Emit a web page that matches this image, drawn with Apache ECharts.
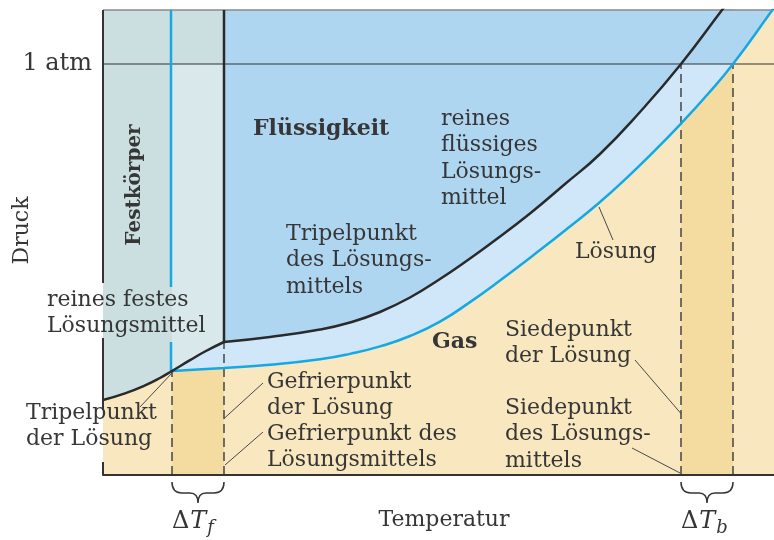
<!DOCTYPE html>
<html>
<head>
<meta charset="utf-8">
<script src="https://cdn.jsdelivr.net/npm/echarts@6/dist/echarts.min.js"></script>
<style>
html, body { margin: 0; padding: 0; background: #fff; }
#chart { width: 774px; height: 540px; }
</style>
</head>
<body>
<div id="chart"></div>
<script>
// Phasendiagramm: reines Lösungsmittel (schwarz) und Lösung (blau)
// x = Temperatur, y = Druck (willkürliche Einheiten), 1 atm = 411
var atm = 411;

// Sublimationskurve (fest <-> gas)
var sublimT = [0, 22, 42, 57, 69, 87, 102, 121];
var sublimP = [75, 81.6, 89.6, 97, 104, 114.8, 123.5, 133];
// Dampfdruckkurve reines Lösungsmittel
var vapT = [121, 167, 217, 247, 277, 307, 337, 367, 387, 427, 462, 497, 537, 578, 619, 632];
var vapP = [133, 138, 145.5, 152.5, 163, 177.5, 196, 216.5, 231, 261.5, 291, 321, 363, 411, 465, 482];
// Dampfdruckkurve Lösung
var solT = [69, 121, 167, 217, 247, 277, 307, 337, 367, 397, 437, 466, 495, 524, 551, 578, 604, 630, 669, 682];
var solP = [104, 107, 110.2, 115.7, 121.1, 128.6, 139, 153.4, 172.9, 194.5, 224.9, 247.7, 271.3, 297.4, 323.6, 351.4, 380, 411, 464.5, 482.5];

var meltT = 121;          // Schmelzkurve Lösungsmittel
var meltSolT = 68;        // Schmelzkurve Lösung
var tripleP = [104, 133]; // Tripelpunkte Lösung / Lösungsmittel
var freezeT = [69, 121];  // Gefrierpunkt Lösung / Lösungsmittel
var boilT = [578, 630];   // Siedepunkt Lösungsmittel / Lösung

var SERIF = 'DejaVu Serif';
var INK = '#363636';
var BEIGE = '#f8e7bf', STRIP = '#f4dca0', LIQUID = '#afd6f1', BAND = '#cfe7f8';
var TEAL = '#cbdfe0', LTEAL = '#d9e8eb', BLACK = '#2a2a2a', BLUE = '#14a8e6';
var SMOOTH = 0.5;

function zip(a, b) {
	return a.map(function(v, i) { return [v, b[i]]; });
}

var sublim = zip(sublimT, sublimP);
var vap = zip(vapT, vapP);
var sol = zip(solT, solP);
var iF = solT.indexOf(freezeT[1]), iB0 = solT.indexOf(boilT[0]), iB1 = solT.indexOf(boilT[1]);

function fill(data, origin, color) {
	return {
		type: 'line', data: data, smooth: SMOOTH, symbol: 'none', silent: true,
		lineStyle: { opacity: 0 },
		areaStyle: { origin: origin, color: color, opacity: 1 }
	};
}
function curve(data, color, width, smooth, dash) {
	return {
		type: 'line', data: data, smooth: smooth ? SMOOTH : false, symbol: 'none', silent: true,
		connectNulls: false,
		lineStyle: { color: color, width: width, type: dash || 'solid', cap: 'butt' }
	};
}

// text annotations (data coords of top-left / centre)
var notes = [
	{ x: -56, y: 188, text: 'reines festes\nLösungsmittel' },
	{ x: -77, y: 75, text: 'Tripelpunkt\nder Lösung' },
	{ x: 183, y: 254, text: 'Tripelpunkt\ndes Lösungs-\nmittels' },
	{ x: 338, y: 369, text: 'reines\nflüssiges\nLösungs-\nmittel' },
	{ x: 164, y: 106, text: 'Gefrierpunkt\nder Lösung' },
	{ x: 164, y: 54, text: 'Gefrierpunkt des\nLösungsmittels' },
	{ x: 402, y: 158, text: 'Siedepunkt\nder Lösung' },
	{ x: 402, y: 80, text: 'Siedepunkt\ndes Lösungs-\nmittels' },
	{ x: 472, y: 236, text: 'Lösung' },
	{ x: 150, y: 346, text: 'Flüssigkeit', bold: true, va: 'middle' },
	{ x: 329, y: 133, text: 'Gas', bold: true, va: 'middle' },
	{ x: 32, y: 290, text: 'Festkörper', bold: true, size: 20, va: 'middle', align: 'center', rot: Math.PI / 2 }
];
// Hinweislinien
var leaders = [
	[50, 132, 42, 90],
	[37, 68, 69, 102],
	[160, 92, 70, 10],
	[160, 43, 122, 10],
	[179, 203, 122, 135],
	[360, 267, 387, 233],
	[532, 115, 629, 2],
	[529, 27, 577, 2],
	[510, 235, 496, 268]
];

var chart = echarts.init(document.getElementById('chart'));

var series = [
	fill(sol, 'end', LIQUID),
	fill(sol.slice(0, iB1 + 1), atm, BAND),
	fill(vap, atm, LIQUID),
	fill(sublim, 'end', TEAL),
	fill(sublim.slice(4), atm, LTEAL),
	fill(sol.slice(0, iF + 1), 'start', STRIP),
	fill(sol.slice(iB0, iB1 + 1), 'start', STRIP),
	// 1 atm und Rahmen
	Object.assign(curve([[0, atm], [671, atm]], '#333', 1.2), { clip: false }),
	Object.assign(curve([[0, 465], [671, 465]], '#8a8a8a', 1.5), { clip: false }),
	Object.assign(curve([[0, 465], [0, 192], [0, '-'], [0, 137], [0, 65], [0, '-'], [0, 13], [0, 0]], '#333', 2), { clip: false }),
	// gestrichelte Linien
	curve([[freezeT[0], 0], [freezeT[0], tripleP[0]]], '#444', 1.5, false, [9, 5]),
	curve([[freezeT[1], 0], [freezeT[1], tripleP[1]]], '#444', 1.5, false, [9, 5]),
	curve([[boilT[0], 0], [boilT[0], atm]], '#444', 1.5, false, [9, 5]),
	curve([[boilT[1], 0], [boilT[1], atm]], '#444', 1.5, false, [9, 5]),
	// Kurven
	curve([[meltSolT, 465], [meltSolT, 188], [meltSolT, '-'], [meltSolT, 133], [meltSolT, tripleP[0]]], BLUE, 2.5),
	curve(sol, BLUE, 2.5, true),
	curve([[meltT, tripleP[1]], [meltT, 465]], BLACK, 2.5),
	curve(sublim, BLACK, 2.5, true),
	curve(vap, BLACK, 2.5, true),
	{
		type: 'custom', silent: true, clip: false,
		data: leaders,
		renderItem: function(params, api) {
			var a = api.coord([api.value(0), api.value(1)]);
			var b = api.coord([api.value(2), api.value(3)]);
			return {
				type: 'line',
				shape: { x1: a[0], y1: a[1], x2: b[0], y2: b[1] },
				style: { stroke: '#4a4a4a', lineWidth: 1 }
			};
		}
	},
	{
		// geschweifte Klammern unter ΔT
		type: 'custom', silent: true, clip: false,
		data: [freezeT, boilT],
		renderItem: function(params, api) {
			var a = api.coord([api.value(0), 0]);
			var b = api.coord([api.value(1), 0]);
			var y = a[1], m = (a[0] + b[0]) / 2;
			var d = 'M' + a[0] + ',' + (y + 7) +
				' Q' + a[0] + ',' + (y + 18) + ' ' + (a[0] + 10) + ',' + (y + 18) +
				' L' + (m - 8) + ',' + (y + 18) +
				' Q' + m + ',' + (y + 18) + ' ' + m + ',' + (y + 28) +
				' Q' + m + ',' + (y + 18) + ' ' + (m + 8) + ',' + (y + 18) +
				' L' + (b[0] - 10) + ',' + (y + 18) +
				' Q' + b[0] + ',' + (y + 18) + ' ' + b[0] + ',' + (y + 7);
			return {
				type: 'path',
				shape: { pathData: d },
				style: { fill: 'none', stroke: INK, lineWidth: 1.5 }
			};
		}
	},
	{
		type: 'custom', silent: true, clip: false, z: 10,
		data: notes.map(function(n) { return [n.x, n.y]; }),
		renderItem: function(params, api) {
			var n = notes[params.dataIndex];
			var p = api.coord([api.value(0), api.value(1)]);
			return {
				type: 'text',
				x: p[0], y: p[1],
				rotation: n.rot || 0,
				style: {
					text: n.text,
					fill: INK,
					fontFamily: SERIF,
					fontSize: n.size || 22,
					fontWeight: n.bold ? 'bold' : 'normal',
					lineHeight: 26.5,
					align: n.align || 'left',
					verticalAlign: n.va || 'top'
				}
			};
		}
	}
];

var option = {
	animation: false,
	grid: {
		left: 103, right: 0, top: 10, bottom: 65,
		outerBoundsMode: 'none',
		show: true, backgroundColor: BEIGE, borderWidth: 0
	},
	xAxis: {
		type: 'value', min: 0, max: 671, z: 5,
		axisLine: { show: true, lineStyle: { color: '#333', width: 2 } },
		axisTick: { show: false },
		splitLine: { show: false },
		axisLabel: {
			customValues: [freezeT[0], boilT[0]],
			align: 'left',
			margin: 31,
			formatter: function(v) {
				return v === freezeT[0] ? '{d|Δ}{t|T}{s|f}' : '{d|Δ}{t|T}{s|b}';
			},
			rich: {
				d: { fontFamily: SERIF, fontSize: 24, color: INK },
				t: { fontFamily: SERIF, fontSize: 24, fontStyle: 'italic', color: INK, padding: [0, 1, 0, 1] },
				s: { fontFamily: SERIF, fontSize: 18, fontStyle: 'italic', color: INK, padding: [13, 0, 0, 0] }
			}
		},
		name: 'Temperatur',
		nameLocation: 'middle',
		nameGap: 34,
		nameMoveOverlap: false,
		nameTextStyle: { fontFamily: SERIF, fontSize: 22, color: INK, padding: [0, 0, 0, 11] }
	},
	yAxis: {
		type: 'value', min: 0, max: 465,
		axisLine: { show: false },
		axisTick: { show: false },
		splitLine: { show: false },
		axisLabel: {
			customValues: [atm],
			margin: 11,
			formatter: function() { return '1 atm'; },
			fontFamily: SERIF, fontSize: 24, color: INK
		},
		name: 'Druck',
		nameLocation: 'middle',
		nameRotate: 90,
		nameGap: 70,
		nameMoveOverlap: false,
		nameTextStyle: { fontFamily: SERIF, fontSize: 22, color: INK, padding: [0, 0, 0, 24] }
	},
	series: series
};

chart.setOption(option);
</script>
</body>
</html>
